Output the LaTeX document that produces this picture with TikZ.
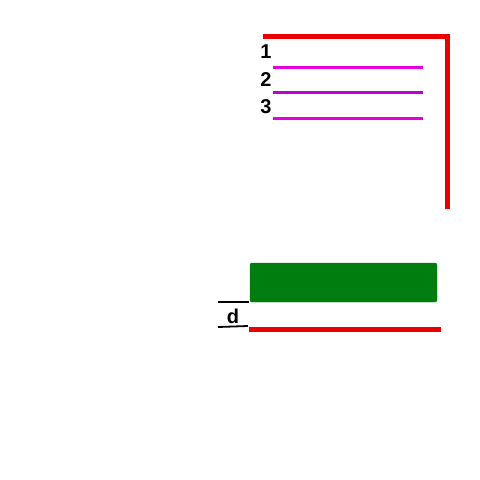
\documentclass[tikz,border=0pt]{standalone}
\usepackage{fontspec}
\setmainfont{Liberation Sans}
\usepackage{xcolor}
\usepackage{tikz}
\usetikzlibrary{arrows}

\definecolor{plate}{RGB}{0,125,15}
\definecolor{beam}{RGB}{235,0,0}
\definecolor{track}{RGB}{230,0,220}
\definecolor{trackmid}{RGB}{190,0,215}

\tikzset{
    redline/.style = {draw = beam, line width = 5pt},
    trackline/.style = {draw = track, line width = 3pt},
    num/.style = {font = \bfseries\fontsize{20}{20}\selectfont, inner sep = 0pt}
}

\begin{document}
\begin{tikzpicture}[x = 1pt, y = -1pt]
        \useasboundingbox (0, 0) rectangle (480, 480);

        \coordinate (tl) at (263, 36);
        \coordinate (tr) at (447, 36);
        \coordinate (br) at (447, 209);
        \draw[redline] (tl) -- (tr) -- (br);

        \coordinate (a1) at (273, 67);
        \coordinate (b1) at (423, 67);
        \coordinate (a2) at (273, 92);
        \coordinate (b2) at (423, 92);
        \coordinate (a3) at (273, 118);
        \coordinate (b3) at (423, 118);
        \draw[trackline] (a1) -- (b1);
        \draw[trackline, draw = trackmid] (a2) -- (b2);
        \draw[trackline] (a3) -- (b3);

        \node[num] (n1) at (266, 52) {1};
        \node[num] (n2) at (266, 80) {2};
        \node[num] (n3) at (266, 107) {3};

        \filldraw[fill = plate, draw = plate, rounded corners = 2pt]
            (250, 263) rectangle (437, 302);

        \coordinate (gl) at (218, 302);
        \coordinate (gr) at (249, 302);
        \coordinate (rl) at (218, 327);
        \coordinate (rr) at (248, 326);
        \draw[line width = 1.8pt] (gl) -- (gr);
        \draw[line width = 1.8pt] (rl) -- (rr);
        \node[num] (d) at (233, 316) {d};

        \coordinate (bl) at (249, 329);
        \coordinate (bb) at (441, 329);
        \draw[redline] (bl) -- (bb);
    \end{tikzpicture}
\end{document}
